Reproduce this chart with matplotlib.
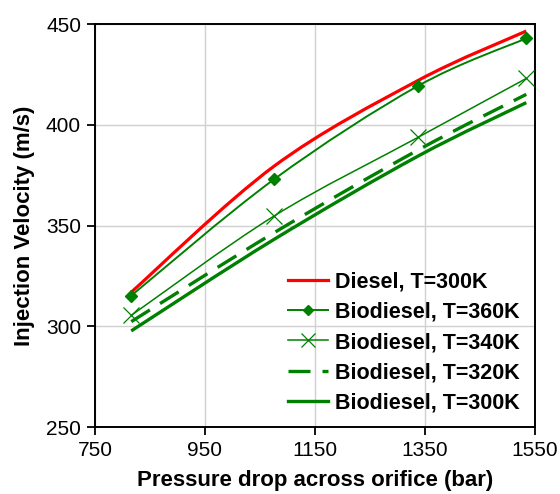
import matplotlib
matplotlib.use("Agg")
import matplotlib.pyplot as plt
from matplotlib.path import Path
from matplotlib.patches import PathPatch
from matplotlib.lines import Line2D

plt.rcParams['font.family'] = ['Liberation Sans', 'DejaVu Sans']

# Pressure drop (bar) and injection velocity (m/s)
pressure = [816, 1076, 1338, 1535]
diesel_300 = [317.0, 379.5, 422.0, 446.5]
bio_360 = [315.3, 373.0, 419.3, 442.9]
bio_340 = [305.5, 354.8, 393.8, 423.0]
bio_320 = [302.4, 346.5, 387.5, 415.1]
bio_300 = [297.8, 343.2, 384.5, 411.0]

labels = ["Diesel, T=300K", "Biodiesel, T=360K", "Biodiesel, T=340K",
          "Biodiesel, T=320K", "Biodiesel, T=300K"]

x_ticks = [750, 950, 1150, 1350, 1550]
y_ticks = [250, 300, 350, 400, 450]

RED = '#ff0000'
GREEN = '#008000'


def smooth_path(xs, ys):
    """Catmull-Rom curve through the points, as cubic Bezier segments."""
    pts = list(zip(xs, ys))
    n = len(pts)
    verts = [pts[0]]
    codes = [Path.MOVETO]
    for i in range(n - 1):
        p0 = pts[i - 1] if i > 0 else pts[i]
        p1 = pts[i]
        p2 = pts[i + 1]
        p3 = pts[i + 2] if i + 2 < n else pts[i + 1]
        c1 = (p1[0] + (p2[0] - p0[0]) / 6, p1[1] + (p2[1] - p0[1]) / 6)
        c2 = (p2[0] - (p3[0] - p1[0]) / 6, p2[1] - (p3[1] - p1[1]) / 6)
        verts += [c1, c2, p2]
        codes += [Path.CURVE4] * 3
    return Path(verts, codes)


fig = plt.figure(figsize=(5.6, 4.94), dpi=100)
ax = fig.add_axes([0.1696, 0.135, 0.7849, 0.8164])

styles = [
    dict(color=RED, lw=2.3, ls='-', marker=None),
    dict(color=GREEN, lw=1.4, ls='-', marker='D', ms=6, mew=1),
    dict(color=GREEN, lw=1.1, ls='-', marker='x', ms=11, mew=0.9),
    dict(color=GREEN, lw=2.4, ls=(0, (6.6, 3.6)), marker=None),
    dict(color=GREEN, lw=2.4, ls='-', marker=None),
]
series = [diesel_300, bio_360, bio_340, bio_320, bio_300]

handles = []
for ys, st, lab in zip(series, styles, labels):
    patch = PathPatch(smooth_path(pressure, ys), facecolor='none',
                      edgecolor=st['color'], lw=st['lw'], linestyle=st['ls'],
                      capstyle='butt', zorder=3)
    ax.add_patch(patch)
    if st['marker']:
        ax.plot(pressure, ys, linestyle='none', marker=st['marker'],
                ms=st['ms'], mew=st['mew'], color=st['color'], zorder=4)
    handles.append(Line2D([], [], color=st['color'], lw=st['lw'],
                          linestyle=st['ls'], marker=st['marker'],
                          ms=st.get('ms', 0) * 0.9, mew=st.get('mew', 1),
                          dash_capstyle='butt'))

ax.set_xlim(750, 1550)
ax.set_ylim(250, 450)
ax.set_xticks(x_ticks)
ax.set_yticks(y_ticks)
ax.tick_params(axis='both', labelsize=15, direction='out', length=6,
               width=1.3, pad=4)
ax.grid(True, color='#d0d0d0', lw=1.0)
ax.set_axisbelow(True)
for sp in ax.spines.values():
    sp.set_linewidth(1.4)

ax.set_xlabel("Pressure drop across orifice (bar)", fontsize=16,
              fontweight='bold', labelpad=7)
ax.set_ylabel("Injection Velocity (m/s)", fontsize=16,
              fontweight='bold', labelpad=8)

leg = ax.legend(handles, labels, loc='lower right', frameon=False,
                prop=dict(size=15.5, weight='bold'), handlelength=1.9,
                handletextpad=0.3, labelspacing=0.44, borderpad=0,
                borderaxespad=0, bbox_to_anchor=(0.928, 0.162),
                bbox_transform=fig.transFigure)

fig.savefig("out.png", dpi=100)
